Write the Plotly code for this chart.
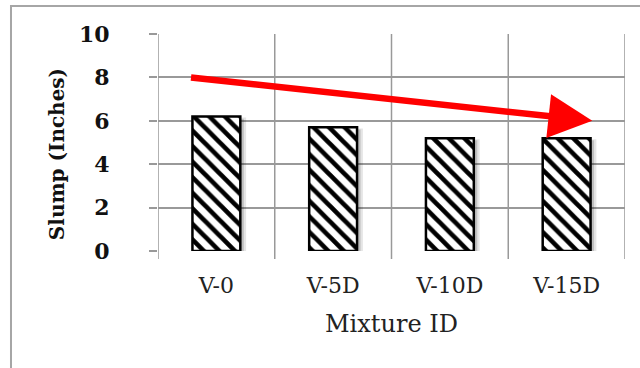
import plotly.graph_objects as go

categories = ["V-0", "V-5D", "V-10D", "V-15D"]
slump = [6.2, 5.7, 5.2, 5.2]
y_ticks = [0, 2, 4, 6, 8, 10]
trend_start = (-0.23, 8.0)
trend_end = (3.22, 6.0)

serif = "DejaVu Serif, serif"

fig = go.Figure()
# soft shadow
fig.add_trace(go.Bar(
    x=list(range(len(categories))), y=[v - 0.05 for v in slump], width=0.41, offset=-0.205 + 0.05,
    marker=dict(color="rgba(0,0,0,0.10)", line=dict(width=0)), hoverinfo="skip", showlegend=False))
fig.add_trace(go.Bar(
    x=list(range(len(categories))), y=[v - 0.1 for v in slump], width=0.41, offset=-0.205 + 0.03,
    marker=dict(color="rgba(0,0,0,0.16)", line=dict(width=0)), hoverinfo="skip", showlegend=False))
fig.add_trace(go.Bar(
    x=list(range(len(categories))), y=slump, width=0.41, offset=-0.205,
    marker=dict(color="white", line=dict(color="black", width=2.5),
                pattern=dict(shape="\\", fgcolor="#000000", bgcolor="white", fgopacity=1,
                             size=11, solidity=0.42)),
    showlegend=False))

fig.add_annotation(
    x=trend_end[0], y=trend_end[1], ax=trend_start[0], ay=trend_start[1],
    xref="x", yref="y", axref="x", ayref="y", text="", showarrow=True,
    arrowhead=2, arrowsize=1.35, arrowwidth=6.5, arrowcolor="#ff0000", standoff=0)

# y-axis title
fig.add_annotation(
    text="Slump (Inches)", textangle=-90, xref="paper", yref="paper",
    x=-0.216, y=0.447, xanchor="center", yanchor="middle", showarrow=False,
    font=dict(family=serif, size=20, color="#111", weight="bold"))

fig.add_shape(type="rect", xref="paper", yref="paper",
              x0=-0.3148, x1=1.06, y0=-0.6, y1=1.129,
              line=dict(color="#a6a6a6", width=2), fillcolor="rgba(0,0,0,0)", layer="below")

fig.update_layout(
    width=640, height=368, margin=dict(l=158, r=15, t=34, b=117),
    paper_bgcolor="white", plot_bgcolor="white", barmode="overlay",
    font=dict(family=serif),
    xaxis=dict(
        range=[-0.5, 3.5], tickmode="array", tickvals=list(range(len(categories))),
        ticktext=categories, showgrid=False, zeroline=False,
        tickfont=dict(family=serif, size=22, color="#222"),
        title=dict(text="Mixture ID", font=dict(family=serif, size=24, color="#222"), standoff=18),
        showline=False, ticks="", ticklabelstandoff=19),
    yaxis=dict(
        range=[0, 10], tickmode="array", tickvals=y_ticks, showgrid=True,
        gridcolor="#999999", gridwidth=1.5, zeroline=False,
        ticks="outside", ticklen=8, tickcolor="#999999", tickwidth=1.5,
        ticklabelstandoff=35,
        tickfont=dict(family=serif, size=22, color="#111", weight="bold")),
)

# vertical category boundary lines with tick extension
for b in [-0.5, 0.5, 1.5, 2.5, 3.5]:
    fig.add_shape(type="line", xref="x", yref="paper", x0=b, x1=b, y0=-0.037, y1=1,
                  line=dict(color="#999999", width=1.5), layer="below")

fig.write_html("out.html")
